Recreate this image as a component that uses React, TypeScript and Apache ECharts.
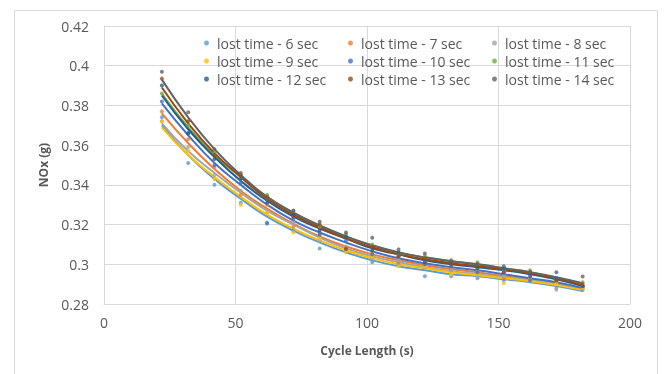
import React, { useEffect, useRef } from "react";
import * as echarts from "echarts";

const cycleLengths = [22, 32, 42, 52, 62, 72, 82, 92, 102, 112, 122, 132, 142, 152, 162, 172, 182];

const seriesNames = [
  "lost time - 6 sec",
  "lost time - 7 sec",
  "lost time - 8 sec",
  "lost time - 9 sec",
  "lost time - 10 sec",
  "lost time - 11 sec",
  "lost time - 12 sec",
  "lost time - 13 sec",
  "lost time - 14 sec",
];

const seriesColors = ["#5B9BD5", "#ED7D31", "#A5A5A5", "#FFC000", "#4472C4", "#70AD47", "#255E91", "#9E480E", "#636363"];

// observed points
const pts6 = [0.374, 0.351, 0.340, 0.331, 0.321, 0.317, 0.308, 0.307, 0.301, 0.300, 0.294, 0.294, 0.293, 0.292, 0.292, 0.288, 0.287];
const pts7 = [0.377, 0.363, 0.349, 0.335, 0.330, 0.319, 0.315, 0.308, 0.306, 0.301, 0.300, 0.297, 0.297, 0.293, 0.293, 0.291, 0.288];
const pts8 = [0.372, 0.359, 0.345, 0.337, 0.326, 0.321, 0.312, 0.309, 0.303, 0.302, 0.298, 0.297, 0.294, 0.294, 0.293, 0.2872, 0.289];
const pts9 = [0.372, 0.357, 0.343, 0.330, 0.326, 0.316, 0.313, 0.306, 0.304, 0.299, 0.299, 0.295, 0.295, 0.2905, 0.292, 0.290, 0.288];
const pts10 = [0.382, 0.366, 0.350, 0.341, 0.3205, 0.323, 0.315, 0.312, 0.305, 0.304, 0.300, 0.299, 0.296, 0.296, 0.292, 0.292, 0.289];
const pts11 = [0.386, 0.370, 0.356, 0.343, 0.335, 0.327, 0.319, 0.315, 0.310, 0.305, 0.304, 0.301, 0.301, 0.297, 0.297, 0.293, 0.291];
const pts12 = [0.390, 0.366, 0.353, 0.343, 0.331, 0.325, 0.317, 0.314, 0.307, 0.306, 0.301, 0.301, 0.298, 0.298, 0.294, 0.293, 0.289];
const pts13 = [0.3935, 0.372, 0.355, 0.345, 0.334, 0.324, 0.320, 0.3078, 0.309, 0.304, 0.303, 0.300, 0.300, 0.296, 0.296, 0.292, 0.290];
const pts14 = [0.397, 0.3766, 0.358, 0.346, 0.333, 0.327, 0.3214, 0.316, 0.3134, 0.3075, 0.3054, 0.302, 0.300, 0.299, 0.296, 0.296, 0.2939];

// trend lines
const trend6 = [0.370, 0.355, 0.343, 0.333, 0.324, 0.317, 0.311, 0.306, 0.302, 0.299, 0.297, 0.295, 0.294, 0.2925, 0.291, 0.289, 0.2865];
const trend7 = [0.376, 0.361, 0.348, 0.337, 0.328, 0.3205, 0.314, 0.309, 0.305, 0.302, 0.2995, 0.2975, 0.296, 0.294, 0.2925, 0.2905, 0.288];
const trend8 = [0.371, 0.357, 0.346, 0.336, 0.327, 0.320, 0.3135, 0.308, 0.304, 0.301, 0.2985, 0.2965, 0.295, 0.2935, 0.292, 0.290, 0.2875];
const trend9 = [0.369, 0.355, 0.344, 0.334, 0.325, 0.318, 0.312, 0.307, 0.303, 0.300, 0.298, 0.296, 0.2945, 0.293, 0.2915, 0.2895, 0.287];
const trend10 = [0.381, 0.365, 0.351, 0.340, 0.330, 0.322, 0.316, 0.311, 0.3065, 0.303, 0.3005, 0.2985, 0.297, 0.295, 0.293, 0.291, 0.288];
const trend11 = [0.386, 0.369, 0.355, 0.344, 0.334, 0.326, 0.3195, 0.314, 0.3095, 0.306, 0.3035, 0.3015, 0.300, 0.298, 0.296, 0.293, 0.2895];
const trend12 = [0.385, 0.368, 0.354, 0.342, 0.332, 0.324, 0.318, 0.313, 0.308, 0.305, 0.302, 0.300, 0.2985, 0.297, 0.295, 0.2925, 0.289];
const trend13 = [0.389, 0.371, 0.356, 0.344, 0.333, 0.325, 0.3185, 0.313, 0.3085, 0.305, 0.3025, 0.3005, 0.299, 0.2975, 0.2955, 0.293, 0.2895];
const trend14 = [0.393, 0.374, 0.358, 0.345, 0.334, 0.326, 0.3195, 0.314, 0.3095, 0.306, 0.3035, 0.3015, 0.300, 0.298, 0.296, 0.2935, 0.2905];

const pointSets = [pts6, pts7, pts8, pts9, pts10, pts11, pts12, pts13, pts14];
const trendSets = [trend6, trend7, trend8, trend9, trend10, trend11, trend12, trend13, trend14];

const yTicks = ["0.28", "0.3", "0.32", "0.34", "0.36", "0.38", "0.4", "0.42"];

const FONT = "'Open Sans', 'Noto Sans', sans-serif";
const TXT = "#595959";
const GRID = "#d9d9d9";

export default function App() {
  const ref = useRef<HTMLDivElement>(null);

  useEffect(() => {
    if (!ref.current) return;
    const chart = echarts.init(ref.current, undefined, { renderer: "svg" });

    const lineSeries = trendSets.map((t, i) => ({
      name: "trend " + seriesNames[i],
      type: "line",
      smooth: true,
      symbol: "none",
      data: cycleLengths.map((x, j) => [x, t[j]]),
      lineStyle: { color: seriesColors[i], width: 2 },
      itemStyle: { color: seriesColors[i] },
      z: 2,
    }));
    const scatterSeries = pointSets.map((p, i) => ({
      name: seriesNames[i],
      type: "scatter",
      symbol: "circle",
      symbolSize: 4,
      data: cycleLengths.map((x, j) => [x, p[j]]),
      itemStyle: { color: seriesColors[i] },
      z: 3,
    }));

    const legendCols = [
      [0, 3, 6],
      [1, 4, 7],
      [2, 5, 8],
    ];
    const legendLefts = [204, 348, 492];

    chart.setOption({
      animation: false,
      textStyle: { fontFamily: FONT },
      grid: { left: 104, right: 34, top: 26, bottom: 70 },
      legend: legendCols.map((col, k) => ({
        orient: "vertical",
        left: legendLefts[k],
        top: 36,
        padding: 0,
        itemGap: 4,
        itemWidth: 5,
        itemHeight: 5,
        icon: "circle",
        data: col.map((i) => seriesNames[i]),
        textStyle: { fontSize: 14, lineHeight: 14, color: TXT, fontFamily: FONT, padding: [0, 0, 0, 3] },
      })),
      xAxis: {
        type: "value",
        min: 0,
        max: 200,
        interval: 50,
        name: "Cycle Length (s)",
        nameLocation: "middle",
        nameGap: 40,
        nameTextStyle: { fontSize: 12, fontWeight: "bold", color: TXT, fontFamily: FONT },
        axisLine: { show: true, lineStyle: { color: GRID } },
        axisTick: { show: false },
        axisLabel: { fontSize: 14, color: TXT, margin: 11, fontFamily: FONT },
        splitLine: { show: true, lineStyle: { color: GRID } },
      },
      yAxis: {
        type: "value",
        min: 0.28,
        max: 0.42,
        interval: 0.02,
        name: "NOx (g)",
        nameLocation: "middle",
        nameGap: 55,
        nameTextStyle: { fontSize: 12, fontWeight: "bold", color: TXT, fontFamily: FONT },
        axisLine: { show: true, lineStyle: { color: GRID } },
        axisTick: { show: false },
        axisLabel: {
          fontSize: 14,
          color: TXT,
          margin: 15,
          fontFamily: FONT,
          formatter: (v: number) => {
            const s = String(+v.toFixed(2));
            return yTicks.includes(s) ? s : "";
          },
        },
        splitLine: { show: true, lineStyle: { color: GRID } },
      },
      graphic: [
        {
          type: "rect",
          shape: { x: 14.5, y: 10.5, width: 643, height: 380 },
          style: { fill: "none", stroke: GRID, lineWidth: 1 },
          silent: true,
        },
      ],
      series: [...lineSeries, ...scatterSeries],
    });

    return () => chart.dispose();
  }, []);

  return <div ref={ref} style={{ width: 664, height: 374, position: "fixed", left: 0, top: 0 }} />;
}
